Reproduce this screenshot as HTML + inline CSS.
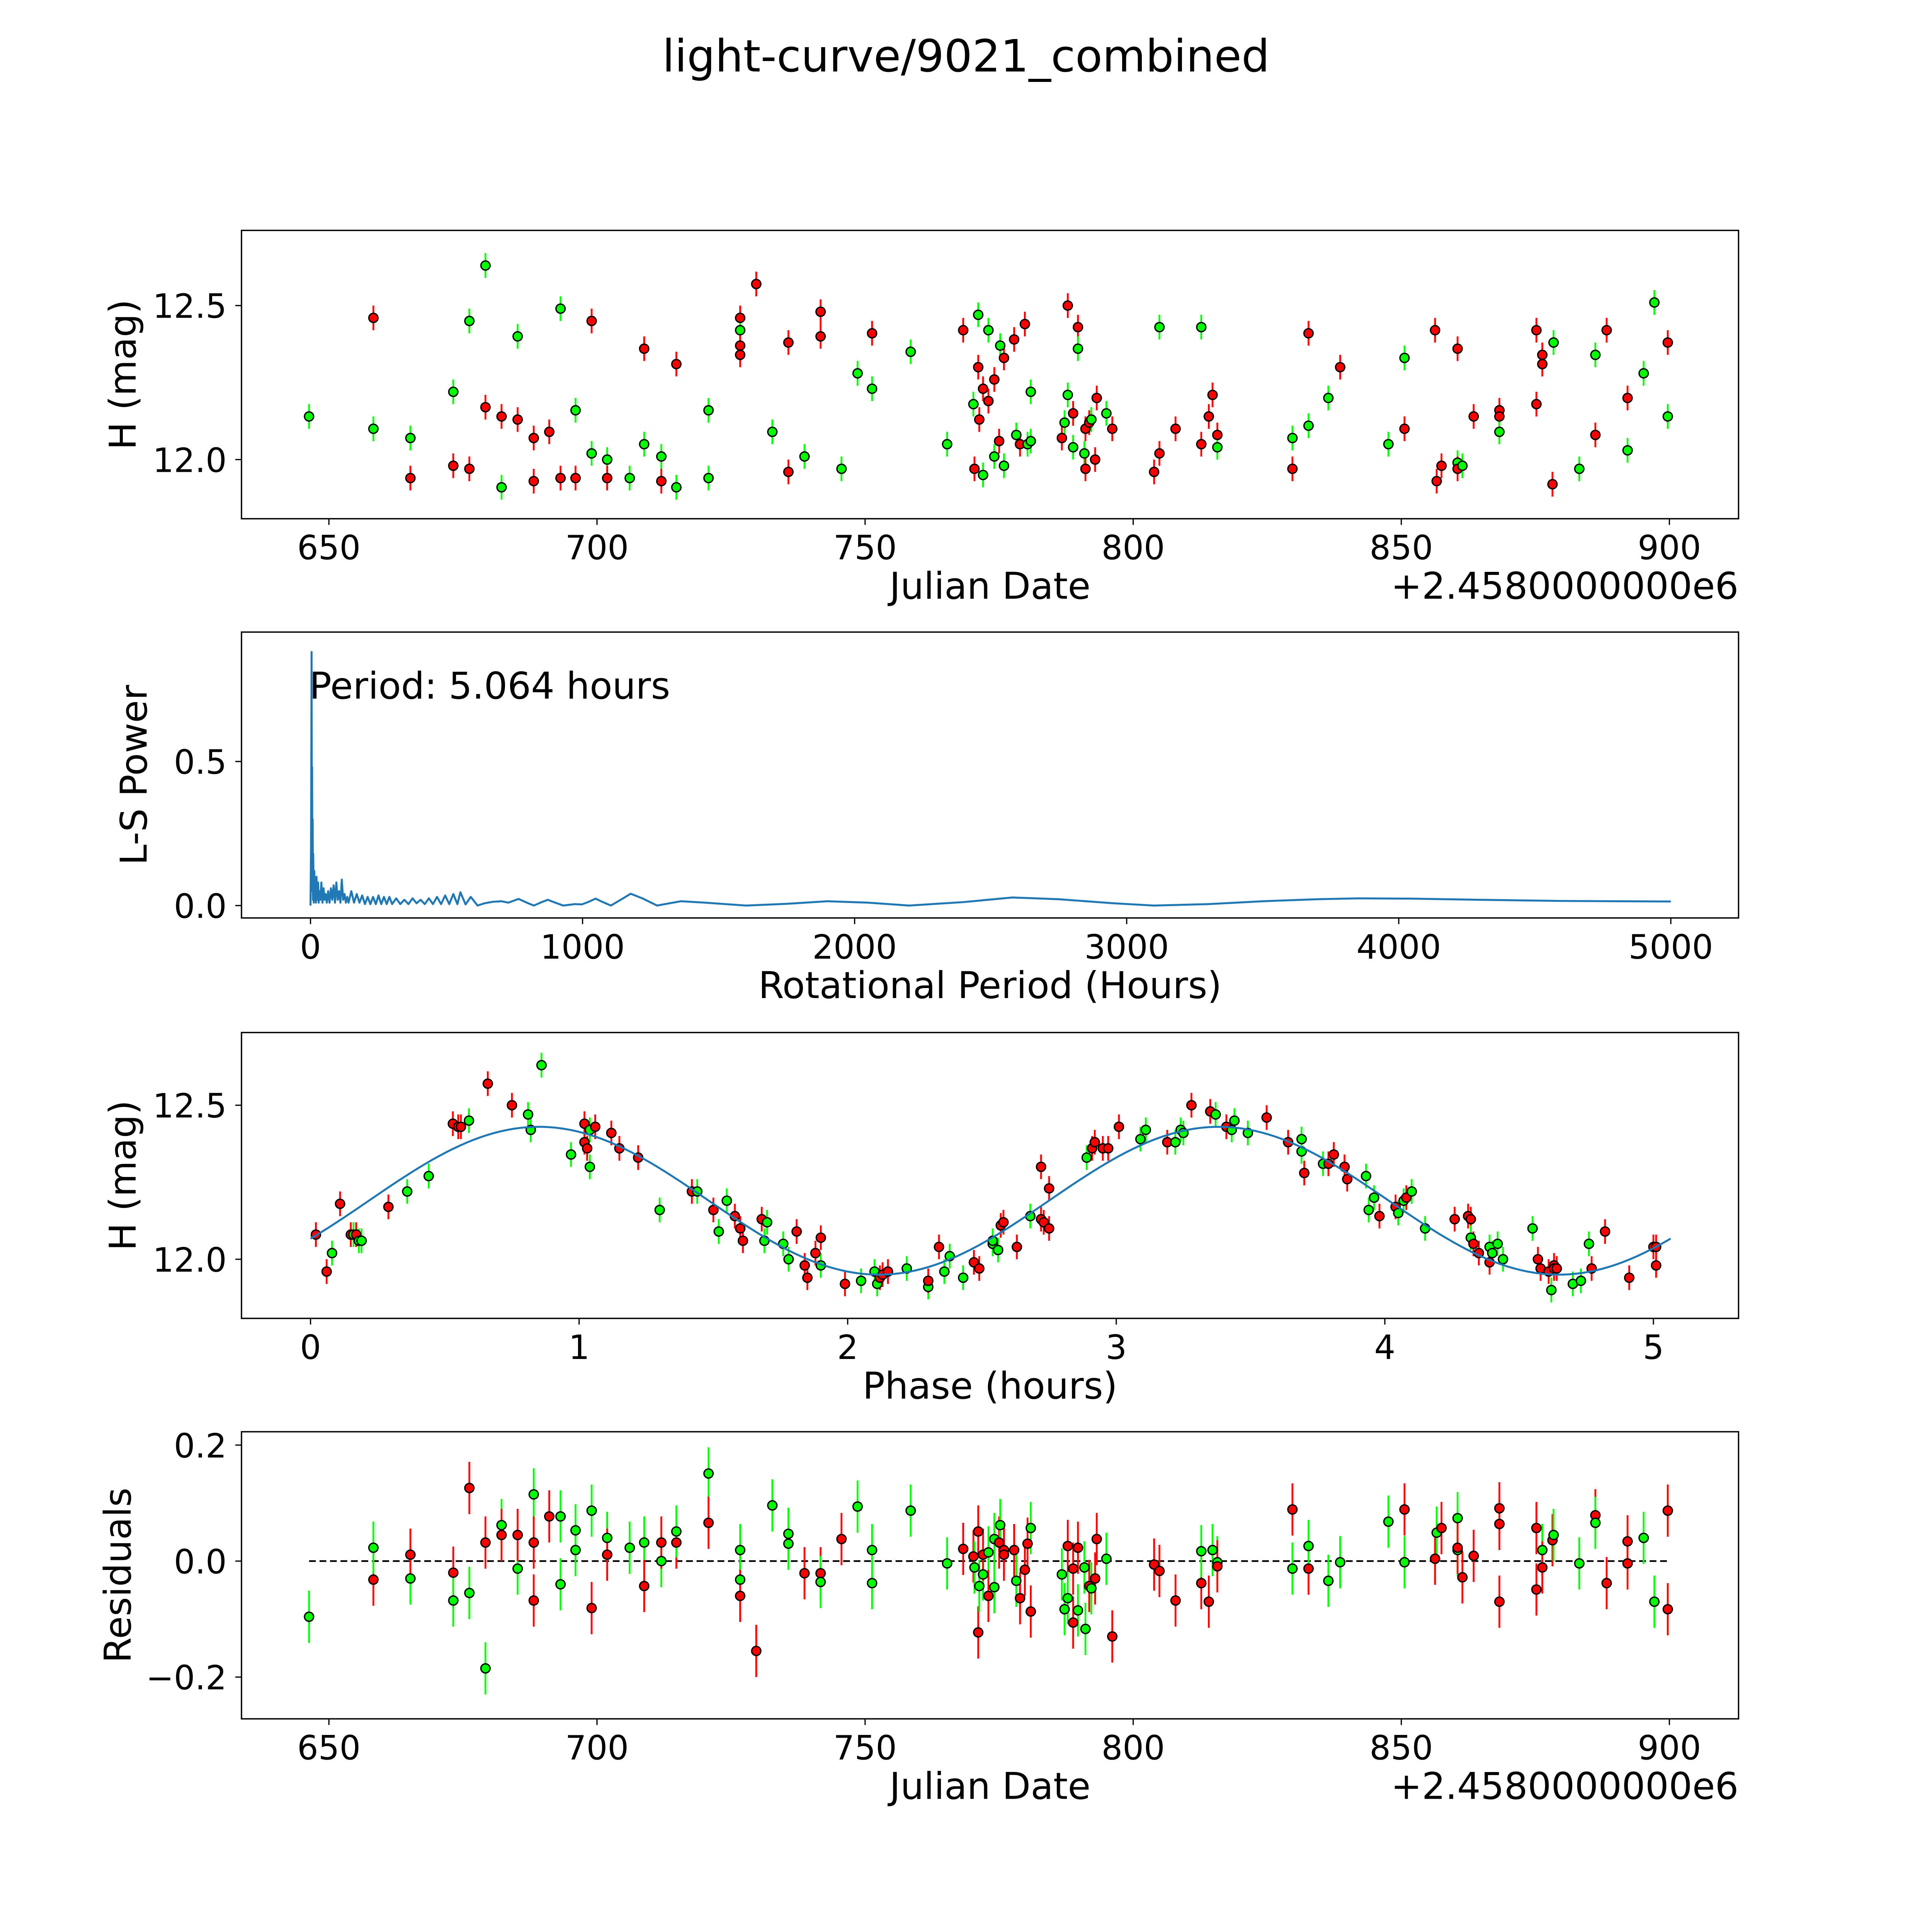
<!DOCTYPE html>
<html><head><meta charset="utf-8">
<style>
html,body{margin:0;padding:0;background:#fff;overflow:hidden;width:100%;height:100%;}
svg{position:fixed;left:0;top:0;width:100vw;height:100vh;display:block;font-family:"DejaVu Sans","Liberation Sans",sans-serif;}
</style></head>
<body>
<svg id="fig" viewBox="0 0 1568 1568" preserveAspectRatio="none" xmlns="http://www.w3.org/2000/svg">
<rect width="1568" height="1568" fill="#fff"/>
<text x="784" y="58" font-size="36" text-anchor="middle">light-curve/9021_combined</text>
</svg>
<script>
// ---------- DATA ----------
const lcDates = [646.3,658.3,658.3,665.2,665.2,673.2,673.2,676.2,676.2,679.2,679.2,682.2,682.2,685.2,685.2,688.2,688.2,691.1,693.2,693.2,696,696,699,699,701.9,701.9,706.1,708.8,708.8,712,712,714.8,714.8,720.8,720.8,726.7,726.7,726.7,726.7,729.7,732.7,735.7,735.7,738.7,741.7,741.7,745.6,748.6,751.3,751.3,758.5,765.3,768.3,770.2,770.4,771.1,771.1,771.3,772,772,773,773,774.1,774.1,775,775.2,775.9,775.9,777.8,778.2,778.9,779.8,780.3,780.9,780.9,786.7,787.2,787.8,787.8,788.8,788.8,789.7,789.7,790.9,791.1,791.1,791.8,792.2,792.9,793.2,795,796.1,803.9,804.9,804.9,807.9,812.7,812.7,814.1,814.8,815.7,815.7,829.7,829.7,832.7,832.7,836.4,838.6,847.6,850.6,850.6,856.3,856.6,857.5,860.5,860.5,860.5,861.4,863.5,868.3,868.3,868.3,875.2,875.2,876.3,876.3,878.2,878.4,883.2,886.2,886.2,888.3,892.2,892.2,895.2,897.2,899.7,899.7];
const lcMags = [12.14,12.46,12.10,12.07,11.94,12.22,11.98,12.45,11.97,12.63,12.17,11.91,12.14,12.40,12.13,12.07,11.93,12.09,12.49,11.94,12.16,11.94,12.02,12.45,12.00,11.94,11.94,12.05,12.36,12.01,11.93,12.31,11.91,12.16,11.94,12.46,12.42,12.37,12.34,12.57,12.09,11.96,12.38,12.01,12.48,12.40,11.97,12.28,12.41,12.23,12.35,12.05,12.42,12.18,11.97,12.47,12.30,12.13,11.95,12.23,12.42,12.19,12.26,12.01,12.06,12.37,11.98,12.33,12.39,12.08,12.05,12.44,12.05,12.06,12.22,12.07,12.12,12.50,12.21,12.15,12.04,12.43,12.36,12.02,11.97,12.10,12.12,12.13,12.00,12.20,12.15,12.10,11.96,12.02,12.43,12.10,12.05,12.43,12.14,12.21,12.08,12.04,11.97,12.07,12.41,12.11,12.20,12.30,12.05,12.10,12.33,12.42,11.93,11.98,12.36,11.99,11.97,11.98,12.14,12.16,12.14,12.09,12.42,12.18,12.34,12.31,11.92,12.38,11.97,12.34,12.08,12.42,12.20,12.03,12.28,12.51,12.14,12.38];
const lcColors = "grggrgrgrgrgrgrrrrgrgrgrgrggrgrrgggrgrrrgrrgrrggrgggrgrgrrgrgrrgrggrrgrrgggrgrgrgrggrrrgrrgrrrgrrgrrrgrgrggrgrgrrrrgrgrrrgrrrrrgggrrrgggg";
const lsPeriods = [0,2,3,4,5,6,7,8,9,10,12,14,16,18,20,22,25,28,30,33,36,40,44,48,52,56,60,65,70,75,80,85,90,95,100,105,110,115,120,125,130,135,140,150,160,170,180,190,200,210,220,230,240,250,260,270,280,290,300,315,330,345,360,375,390,405,420,435,450,465,480,495,510,525,540,551,570,589,614,640,670,702,727,765,795,821,850,872,900,929,972,997,1020,1048,1075,1104,1140,1177,1220,1274,1320,1362,1450,1601,1750,1900,2050,2200,2400,2580,2750,2950,3100,3300,3500,3700,3850,4050,4300,4600,5000];
const lsPower = [0.0,0.20,0.5,0.88,0.30,0.48,0.05,0.30,0.02,0.18,0.01,0.12,0.02,0.07,0.01,0.10,0.02,0.08,0.01,0.05,0.02,0.08,0.01,0.06,0.02,0.04,0.01,0.05,0.01,0.06,0.02,0.07,0.01,0.08,0.02,0.05,0.01,0.09,0.02,0.04,0.01,0.03,0.01,0.05,0.01,0.04,0.01,0.035,0.005,0.03,0.005,0.03,0.005,0.035,0.005,0.03,0.005,0.03,0.005,0.025,0.005,0.02,0.005,0.025,0.008,0.02,0.005,0.025,0.005,0.03,0.005,0.035,0.005,0.04,0.005,0.046,0.004,0.03,0.0,0.008,0.013,0.015,0.01,0.023,0.01,0.0,0.012,0.02,0.01,0.0,0.005,0.004,0.012,0.024,0.012,0.0,0.02,0.041,0.025,0.0,0.008,0.015,0.01,0.0,0.006,0.015,0.01,0.0,0.012,0.028,0.022,0.008,0.0,0.005,0.015,0.022,0.025,0.024,0.02,0.016,0.014];
const phPhase = [0.02,0.06,0.08,0.11,0.15,0.16,0.17,0.18,0.19,0.29,0.36,0.44,0.53,0.55,0.56,0.59,0.66,0.75,0.81,0.82,0.86,0.97,1.02,1.02,1.03,1.04,1.04,1.06,1.12,1.15,1.22,1.30,1.42,1.44,1.50,1.52,1.55,1.58,1.60,1.61,1.68,1.70,1.69,1.76,1.78,1.81,1.84,1.85,1.88,1.90,1.90,1.99,2.05,2.10,2.11,2.12,2.13,2.15,2.22,2.30,2.30,2.34,2.36,2.38,2.43,2.47,2.49,2.54,2.54,2.56,2.57,2.58,2.63,2.68,2.72,2.72,2.73,2.75,2.75,2.89,2.91,2.92,2.95,2.97,3.01,3.09,3.11,3.19,3.22,3.24,3.25,3.28,3.35,3.37,3.41,3.44,3.43,3.49,3.56,3.64,3.69,3.69,3.70,3.77,3.79,3.81,3.85,3.86,3.93,3.94,3.96,3.98,4.04,4.05,4.07,4.08,4.10,4.15,4.26,4.31,4.32,4.32,4.33,4.35,4.39,4.39,4.40,4.42,4.44,4.55,4.57,4.58,4.61,4.62,4.63,4.63,4.64,4.70,4.73,4.76,4.77,4.82,4.91,5.00,5.01,5.01];
const phMags = [12.08,11.96,12.02,12.18,12.08,12.08,12.08,12.06,12.06,12.17,12.22,12.27,12.44,12.43,12.43,12.45,12.57,12.50,12.47,12.42,12.63,12.34,12.38,12.44,12.36,12.42,12.30,12.43,12.41,12.36,12.33,12.16,12.22,12.22,12.16,12.09,12.19,12.14,12.10,12.06,12.13,12.12,12.06,12.05,12.00,12.09,11.98,11.94,12.02,11.98,12.07,11.92,11.93,11.96,11.92,11.94,11.95,11.96,11.97,11.91,11.93,12.04,11.96,12.01,11.94,11.99,11.97,12.05,12.06,12.03,12.11,12.12,12.04,12.14,12.30,12.13,12.12,12.10,12.23,12.33,12.36,12.38,12.36,12.36,12.43,12.39,12.42,12.38,12.38,12.42,12.41,12.50,12.48,12.47,12.43,12.45,12.42,12.41,12.46,12.38,12.39,12.35,12.28,12.31,12.31,12.34,12.30,12.26,12.27,12.16,12.20,12.14,12.17,12.15,12.19,12.20,12.22,12.10,12.13,12.14,12.13,12.07,12.05,12.02,12.04,11.99,12.02,12.05,12.00,12.10,12.00,11.97,11.96,11.90,11.98,11.97,11.97,11.92,11.93,12.05,11.97,12.09,11.94,12.04,12.04,11.98];
const phColors = "rrgrrgrggrggrrrgrrggggrrrggrrrrgrgrggrrrrggggrrrrgrrgggrrrggrrgggrrgggrrrgrrrrrgrrrrrggrgggrrgrgggrrggrgrrrrgggrrggrggrrrgrrgrggggrrrgrrrgggrrrrrrrrrrgrgrgrrrr";
const rsDates = [646.3,658.3,658.3,665.2,665.2,673.2,673.2,676.2,676.2,679.2,679.2,682.2,682.2,685.2,685.2,688.2,688.2,688.2,691.1,693.2,693.2,696,696,699,699,701.9,701.9,706.1,708.8,708.8,712,712,714.8,714.8,720.8,720.8,726.7,726.7,726.7,729.7,732.7,735.7,735.7,738.7,741.7,741.7,745.6,748.6,751.3,751.3,758.5,765.3,768.3,770.2,770.4,771.1,771.1,771.3,772,772,773,773,774.1,774.1,775,775.2,775.9,775.9,777.8,778.2,778.9,779.8,780.3,780.9,780.9,786.7,787.2,787.8,787.8,788.8,788.8,789.7,789.7,790.9,791.1,791.8,792.2,792.9,793.2,795,796.1,803.9,804.9,807.9,812.7,812.7,814.1,814.8,815.7,815.7,829.7,829.7,832.7,832.7,836.4,838.6,847.6,850.6,850.6,856.3,856.6,857.5,860.5,860.5,860.5,861.4,863.5,868.3,868.3,868.3,875.2,875.2,876.3,876.3,878.2,878.4,883.2,886.2,886.2,888.3,892.2,892.2,895.2,897.2,899.7,899.7];
const rsValues = [-0.096,-0.032,0.023,-0.03,0.011,-0.02,-0.068,-0.055,0.126,-0.185,0.032,0.062,0.045,-0.013,0.045,-0.068,0.115,0.032,0.077,0.077,-0.04,0.019,0.053,0.087,-0.081,0.04,0.011,0.023,0.032,-0.043,0,0.032,0.032,0.051,0.151,0.066,0.019,-0.032,-0.06,-0.155,0.096,0.03,0.047,-0.021,-0.021,-0.036,0.038,0.094,0.019,-0.038,0.087,-0.004,0.021,0.008,-0.011,0.051,-0.123,-0.043,-0.023,0.011,0.015,-0.06,0.038,-0.045,0.032,0.062,0.019,0.011,0.019,-0.034,-0.064,-0.015,0.03,-0.087,0.057,-0.023,-0.083,0.026,-0.064,-0.106,-0.013,0.023,-0.085,-0.011,-0.117,-0.043,-0.047,-0.03,0.038,0.004,-0.13,-0.006,-0.017,-0.068,-0.038,0.017,-0.07,0.019,-0.002,-0.009,0.089,-0.013,-0.013,0.026,-0.034,-0.002,0.068,0.089,-0.002,0.004,0.049,0.057,0.074,0.019,0.023,-0.028,0.009,0.091,-0.07,0.064,0.057,-0.049,0.019,-0.011,0.036,0.045,-0.004,0.079,0.066,-0.038,0.034,-0.004,0.04,-0.07,0.087,-0.083];
const rsColors = "grggrrggrgrgrgrrgrrgggggrgrggrgrrggrggrrgggrrgrgggggrrgrrggrgrggrgrrrgrrrrgggrgrrrgggrgrrgrrrrrgrggrrgrggggrgrgrggrrrrrrrrgrrggrgrrrggrrgggrgggrr";
const rsErr = 0.045;
const lcErr = 0.04;
const fitMean = 12.19, fitAmp = 0.24, fitPeak = 0.85, fitHalfPeriod = 2.532, fitEnd = 5.064;

// ---------- DRAW ----------
const NS = "http://www.w3.org/2000/svg";
const svg = document.getElementById('fig');
function el(tag, attrs, parent) {
  const e = document.createElementNS(NS, tag);
  for (const k in attrs) e.setAttribute(k, attrs[k]);
  (parent || svg).appendChild(e);
  return e;
}
function scale(d0, d1, p0, p1) { return v => p0 + (v - d0) * (p1 - p0) / (d1 - d0); }
const COL = {r: '#ff0000', g: '#00ff00'};

function makeAxes(name, x0, x1, y0, y1, xd, yd, xticks, xlabels, yticks, ylabels, xtitle, ytitle, offsetText, ytOff) {
  const g = el('g', {});
  
  
  const sx = scale(xd[0], xd[1], x0, x1), sy = scale(yd[0], yd[1], y1, y0);
  const frame = el('rect', {x: x0, y: y0, width: x1 - x0, height: y1 - y0, fill: 'none', stroke: '#000', 'stroke-width': 1.1}, g);
  
  
  xticks.forEach((t, i) => {
    const X = sx(t);
    el('line', {x1: X, x2: X, y1: y1, y2: y1 + 5, stroke: '#000', 'stroke-width': 1}, g);
    const tx = el('text', {x: X, y: y1 + 33, 'font-size': 27, 'text-anchor': 'middle'}, g);
    
    
    tx.textContent = xlabels[i];
  });
  yticks.forEach((t, i) => {
    const Y = sy(t);
    el('line', {x1: x0 - 5, x2: x0, y1: Y, y2: Y, stroke: '#000', 'stroke-width': 1}, g);
    const ty = el('text', {x: x0 - 12, y: Y + 10, 'font-size': 27, 'text-anchor': 'end'}, g);
    
    
    ty.textContent = ylabels[i];
  });
  const xt = el('text', {x: (x0 + x1) / 2, y: y1 + 65, 'font-size': 30, 'text-anchor': 'middle'}, g);
  
  
  xt.textContent = xtitle;
  const yt = el('text', {x: 0, y: 0, 'font-size': 30, 'text-anchor': 'middle', transform: `translate(${x0 - ytOff},${(y0 + y1) / 2}) rotate(-90)`}, g);
  
  
  yt.textContent = ytitle;
  if (offsetText) {
    const ot = el('text', {x: x1, y: y1 + 65, 'font-size': 30, 'text-anchor': 'end'}, g);
    
    
    ot.textContent = offsetText;
  }
  return {g, sx, sy};
}

function drawPoints(ax, xs, ys, colors, err, name) {
  const g = el('g', {}, ax.g);
  
  
  for (let i = 0; i < xs.length; i++) {
    const X = ax.sx(xs[i]), c = COL[colors[i]] || '#ff0000';
    const bar = el('line', {x1: X, x2: X, y1: ax.sy(ys[i] - err), y2: ax.sy(ys[i] + err), stroke: c, 'stroke-width': 1.5}, g);
    
    
  }
  for (let i = 0; i < xs.length; i++) {
    const c = COL[colors[i]] || '#ff0000';
    const pt = el('circle', {cx: ax.sx(xs[i]), cy: ax.sy(ys[i]), r: 3.7, fill: c, stroke: '#000', 'stroke-width': 1.1}, g);
    
    
  }
}

const ax1 = makeAxes('light-curve-panel', 196, 1411, 187, 421, [633.7, 912.9], [11.808, 12.744],
  [650, 700, 750, 800, 850, 900], ['650', '700', '750', '800', '850', '900'],
  [12.0, 12.5], ['12.0', '12.5'], 'Julian Date', 'H (mag)', '+2.4580000000e6', 86);
drawPoints(ax1, lcDates, lcMags, lcColors, lcErr, 'light-curve-points');

const ax2 = makeAxes('periodogram-panel', 196, 1411, 513, 745, [-253.6, 5249], [-0.043, 0.949],
  [0, 1000, 2000, 3000, 4000, 5000], ['0', '1000', '2000', '3000', '4000', '5000'],
  [0.0, 0.5], ['0.0', '0.5'], 'Rotational Period (Hours)', 'L-S Power', null, 77);
const pd = lsPeriods.map((p, i) => (i ? 'L' : 'M') + ax2.sx(p).toFixed(2) + ' ' + ax2.sy(lsPower[i]).toFixed(2)).join(' ');
const lsLine = el('path', {d: pd, fill: 'none', stroke: '#1f77b4', 'stroke-width': 1.6, 'stroke-linejoin': 'round'}, ax2.g);


const ann = el('text', {x: 251, y: 567, 'font-size': 30}, ax2.g);


ann.textContent = 'Period: 5.064 hours';

const ax3 = makeAxes('phase-panel', 196, 1411, 838, 1070, [-0.257, 5.317], [11.808, 12.736],
  [0, 1, 2, 3, 4, 5], ['0', '1', '2', '3', '4', '5'],
  [12.0, 12.5], ['12.0', '12.5'], 'Phase (hours)', 'H (mag)', null, 86);
let fd = '';
for (let k = 0; k <= 200; k++) {
  const p = fitEnd * k / 200;
  const m = fitMean + fitAmp * Math.cos(2 * Math.PI * (p - fitPeak) / fitHalfPeriod);
  fd += (k ? 'L' : 'M') + ax3.sx(p).toFixed(2) + ' ' + ax3.sy(m).toFixed(2) + ' ';
}
drawPoints(ax3, phPhase, phMags, phColors, lcErr, 'phase-points');
const fit = el('path', {d: fd, fill: 'none', stroke: '#1f77b4', 'stroke-width': 1.6}, ax3.g);



const ax4 = makeAxes('residuals-panel', 196, 1411, 1162, 1395, [633.7, 912.9], [-0.272, 0.223],
  [650, 700, 750, 800, 850, 900], ['650', '700', '750', '800', '850', '900'],
  [-0.2, 0.0, 0.2], ['\u22120.2', '0.0', '0.2'], 'Julian Date', 'Residuals', '+2.4580000000e6', 90);
const zl = el('line', {x1: ax4.sx(646.3), x2: ax4.sx(899.7), y1: ax4.sy(0), y2: ax4.sy(0), stroke: '#000', 'stroke-width': 1.4, 'stroke-dasharray': '5.5 3'}, ax4.g);


drawPoints(ax4, rsDates, rsValues, rsColors, rsErr, 'residual-points');
</script>
</body></html>
